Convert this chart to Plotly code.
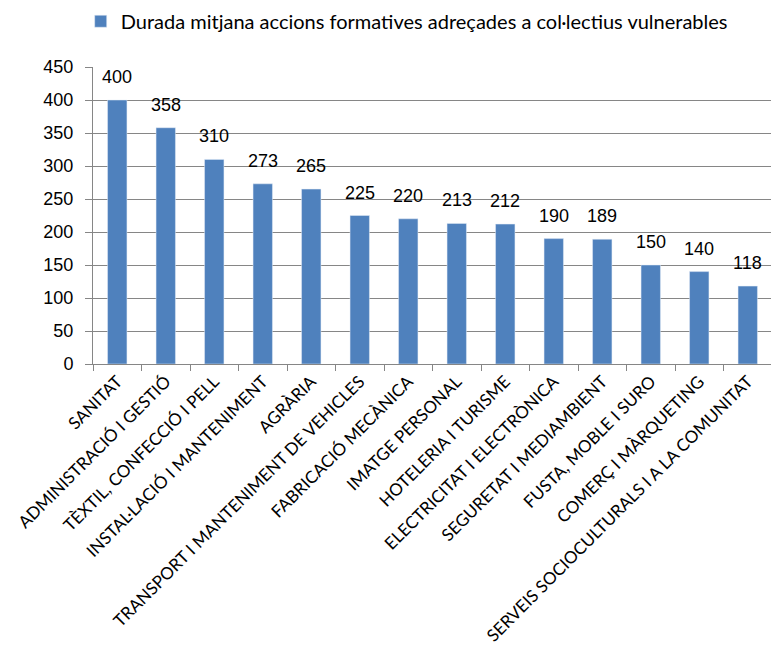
import plotly.graph_objects as go

categories = ["SANITAT", "ADMINISTRACIÓ I GESTIÓ", "TÈXTIL, CONFECCIÓ I PELL",
              "INSTAL·LACIÓ I MANTENIMENT", "AGRÀRIA", "TRANSPORT I MANTENIMENT DE VEHICLES",
              "FABRICACIÓ MECÀNICA", "IMATGE PERSONAL", "HOTELERIA I TURISME",
              "ELECTRICITAT I ELECTRÒNICA", "SEGURETAT I MEDIAMBIENT", "FUSTA, MOBLE I SURO",
              "COMERÇ I MÀRQUETING", "SERVEIS SOCIOCULTURALS I A LA COMUNITAT"]
values = [400, 358, 310, 273, 265, 225, 220, 213, 212, 190, 189, 150, 140, 118]
series_name = "Durada mitjana accions formatives adreçades a col·lectius vulnerables"
y_ticks = [0, 50, 100, 150, 200, 250, 300, 350, 400, 450]

digits_font = "Liberation Sans Narrow, Liberation Sans, Arial, sans-serif"
label_font = "Lato, sans-serif"

fig = go.Figure(go.Bar(
    x=categories, y=values, name=series_name,
    marker=dict(color="#4F81BD"),
    showlegend=True,
))

for c, v in zip(categories, values):
    fig.add_annotation(x=c, y=v, text=str(v), showarrow=False, yanchor="bottom",
                       yshift=11, font=dict(family=digits_font, size=18, color="#000"))

# the page body adds an 8px offset, so the figure is sized 8px smaller
fig.update_layout(
    width=771, height=662,
    margin=dict(l=85, r=7, t=59, b=306),
    plot_bgcolor="white", paper_bgcolor="white",
    bargap=0.6,
    legend=dict(orientation="h", x=0.462, xanchor="center", y=0.98, yref="container",
                yanchor="middle", font=dict(family=label_font, size=20, color="#000"),
                itemwidth=30, bgcolor="rgba(0,0,0,0)"),
    xaxis=dict(tickangle=-45, tickfont=dict(family=label_font, size=17, color="#000"),
               automargin=False,
               showline=True, linecolor="#868686", linewidth=1,
               ticks="outside", tickson="boundaries", ticklen=6, tickcolor="#868686"),
    yaxis=dict(range=[0, 450], tickvals=y_ticks, showgrid=True, gridcolor="#868686", gridwidth=1,
               automargin=False,
               showline=True, linecolor="#868686", ticks="outside", ticklen=7, tickcolor="#868686",
               ticklabelstandoff=8,
               tickfont=dict(family=digits_font, size=18, color="#000"), zeroline=False),
)

fig.write_html("out.html")
